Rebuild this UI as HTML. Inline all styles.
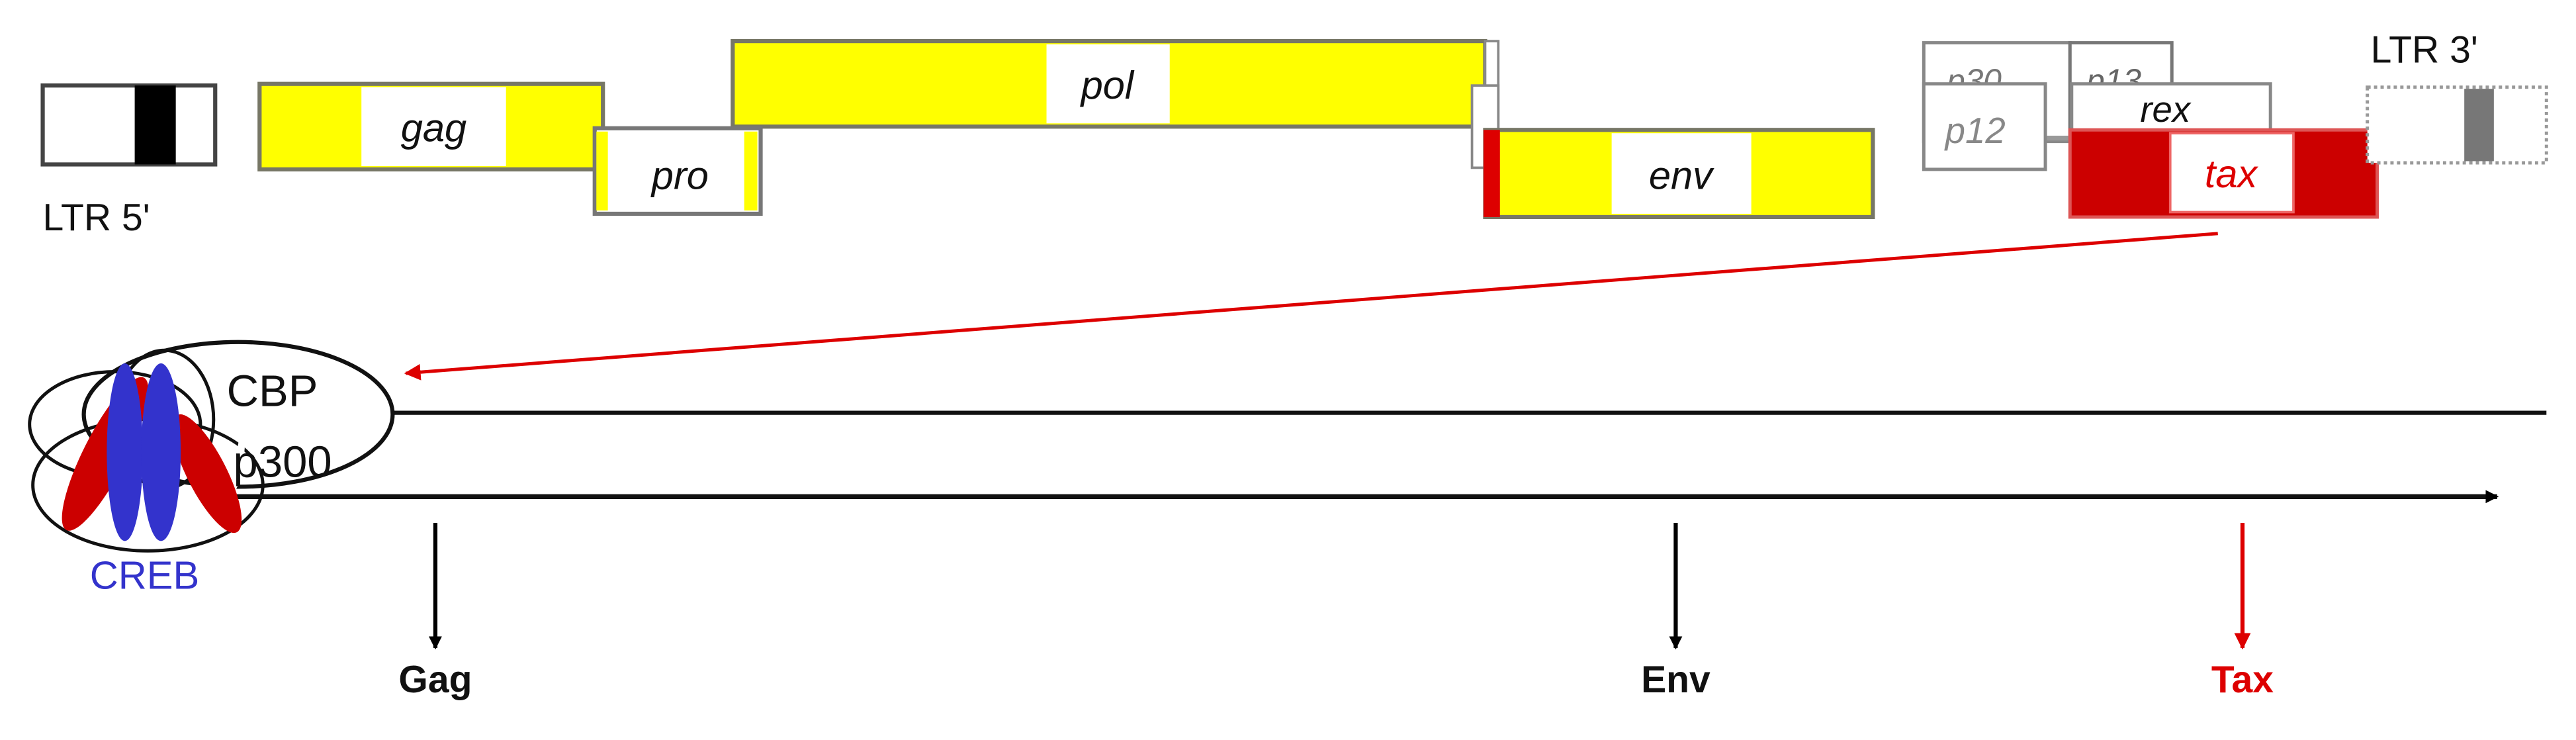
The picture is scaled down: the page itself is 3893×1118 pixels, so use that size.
<!DOCTYPE html>
<html><head><meta charset="utf-8"><style>
html,body{margin:0;padding:0;background:#fff;}
svg{display:block;}
text{font-family:"Liberation Sans",Arial,sans-serif;}
</style></head><body>
<svg width="3893" height="1118" viewBox="0 0 1568 450" preserveAspectRatio="none" xmlns="http://www.w3.org/2000/svg">
<defs>
<marker id="ak" markerWidth="8" markerHeight="8" refX="7" refY="4" orient="auto" markerUnits="userSpaceOnUse"><path d="M0,0 L8,4 L0,8 z" fill="#000"/></marker>
<marker id="ar" markerWidth="10" markerHeight="10" refX="9" refY="5" orient="auto" markerUnits="userSpaceOnUse"><path d="M0,0 L10,5 L0,10 z" fill="#d00"/></marker>
</defs>
<!-- LTR 5' -->
<rect x="26" y="52" width="105" height="48" fill="#fff" stroke="#444" stroke-width="2.5"/>
<rect x="82" y="52" width="25" height="48" fill="#000"/>
<text x="26" y="140" font-size="23" fill="#111">LTR 5'</text>
<!-- gag -->
<rect x="158" y="51" width="209" height="52" fill="#ff0" stroke="#776" stroke-width="2.5"/>
<rect x="220" y="53" width="88" height="48" fill="#fff"/>
<text x="264" y="86" font-size="24" font-style="italic" text-anchor="middle" fill="#111">gag</text>
<!-- pol -->
<rect x="446" y="25" width="458" height="52" fill="#ff0" stroke="#776" stroke-width="2.5"/>
<rect x="637" y="27" width="75" height="48" fill="#fff"/>
<text x="674" y="60" font-size="24" font-style="italic" text-anchor="middle" fill="#111">pol</text>
<rect x="904" y="25" width="8" height="52" fill="#fff" stroke="#888" stroke-width="1.5"/>
<rect x="896" y="52" width="16" height="50" fill="#fff" stroke="#888" stroke-width="1.5"/>
<!-- pro -->
<rect x="362" y="78" width="101" height="52" fill="#fff" stroke="#777" stroke-width="2.5"/>
<rect x="363" y="80" width="7" height="48" fill="#ff0"/>
<rect x="453" y="80" width="8" height="48" fill="#ff0"/>
<text x="414" y="115" font-size="24" font-style="italic" text-anchor="middle" fill="#111">pro</text>
<!-- env -->
<rect x="904" y="79" width="236" height="53" fill="#ff0" stroke="#776" stroke-width="2.5"/>
<rect x="903" y="79" width="10" height="53" fill="#d00"/>
<rect x="981" y="81" width="85" height="49" fill="#fff"/>
<text x="1023" y="115" font-size="24" font-style="italic" text-anchor="middle" fill="#111">env</text>
<!-- p30 / p13 -->
<rect x="1171" y="26" width="89" height="60" fill="#fff" stroke="#888" stroke-width="2"/>
<rect x="1260" y="26" width="62" height="60" fill="#fff" stroke="#777" stroke-width="2"/>
<text x="1185" y="56" font-size="20" font-style="italic" fill="#777">p30</text>
<text x="1270" y="56" font-size="20" font-style="italic" fill="#666">p13</text>
<line x1="1243" y1="84" x2="1262" y2="84" stroke="#999" stroke-width="3"/>
<rect x="1171" y="51" width="74" height="52" fill="#fff" stroke="#888" stroke-width="2"/>
<text x="1184" y="87" font-size="22" font-style="italic" fill="#888">p12</text>
<rect x="1261" y="51" width="121" height="40" fill="#fff" stroke="#888" stroke-width="2"/>
<text x="1318" y="74" font-size="22" font-style="italic" text-anchor="middle" fill="#111">rex</text>
<!-- tax -->
<rect x="1260" y="79" width="187" height="53" fill="#c00" stroke="#d55" stroke-width="2"/>
<rect x="1321" y="81" width="75" height="48" fill="#fff" stroke="#e66" stroke-width="1.5"/>
<text x="1358" y="114" font-size="24" font-style="italic" text-anchor="middle" fill="#d00">tax</text>
<!-- LTR 3' -->
<text x="1443" y="38" font-size="23" fill="#111">LTR 3'</text>
<rect x="1441" y="53" width="109" height="46" fill="#fff" stroke="#999" stroke-width="2" stroke-dasharray="2,2"/>
<rect x="1500" y="54" width="18" height="44" fill="#777"/>
<!-- red arrow -->
<line x1="1350" y1="142" x2="247" y2="227" stroke="#d00" stroke-width="2" marker-end="url(#ar)"/>
<!-- lines -->
<line x1="238" y1="251" x2="1550" y2="251" stroke="#111" stroke-width="2.5"/>
<line x1="140" y1="302" x2="1520" y2="302" stroke="#111" stroke-width="3" marker-end="url(#ak)"/>
<!-- ellipses -->
<ellipse cx="145" cy="252" rx="94" ry="44" fill="#fff" stroke="#111" stroke-width="2.5"/>
<ellipse cx="70" cy="258" rx="52" ry="32" fill="none" stroke="#111" stroke-width="2"/>
<ellipse cx="90" cy="295" rx="70" ry="40" fill="none" stroke="#111" stroke-width="2"/>
<ellipse cx="100" cy="255" rx="30" ry="42" fill="none" stroke="#111" stroke-width="2"/>
<path d="M150,240 Q150,300 140,300" fill="#fff" stroke="none"/>
<text x="138" y="247" font-size="27" fill="#111">CBP</text>
<text x="142" y="290" font-size="27" fill="#111">p300</text>
<!-- CREB -->
<ellipse cx="64" cy="276" rx="13" ry="52" transform="rotate(27 64 276)" fill="#c00"/>
<ellipse cx="126" cy="288" rx="12" ry="40" transform="rotate(-27 126 288)" fill="#c00"/>
<ellipse cx="76" cy="275" rx="11" ry="54" fill="#33c"/>
<ellipse cx="98" cy="275" rx="12" ry="54" fill="#33c"/>
<text x="88" y="358" font-size="24" text-anchor="middle" fill="#33c">CREB</text>
<!-- down arrows -->
<line x1="265" y1="318" x2="265" y2="394" stroke="#000" stroke-width="2.5" marker-end="url(#ak)"/>
<line x1="1020" y1="318" x2="1020" y2="394" stroke="#000" stroke-width="2.5" marker-end="url(#ak)"/>
<line x1="1365" y1="318" x2="1365" y2="394" stroke="#d00" stroke-width="2.5" marker-end="url(#ar)"/>
<text x="265" y="421" font-size="23" font-weight="bold" text-anchor="middle" fill="#111">Gag</text>
<text x="1020" y="421" font-size="23" font-weight="bold" text-anchor="middle" fill="#111">Env</text>
<text x="1365" y="421" font-size="23" font-weight="bold" text-anchor="middle" fill="#d00">Tax</text>
</svg>
</body></html>
